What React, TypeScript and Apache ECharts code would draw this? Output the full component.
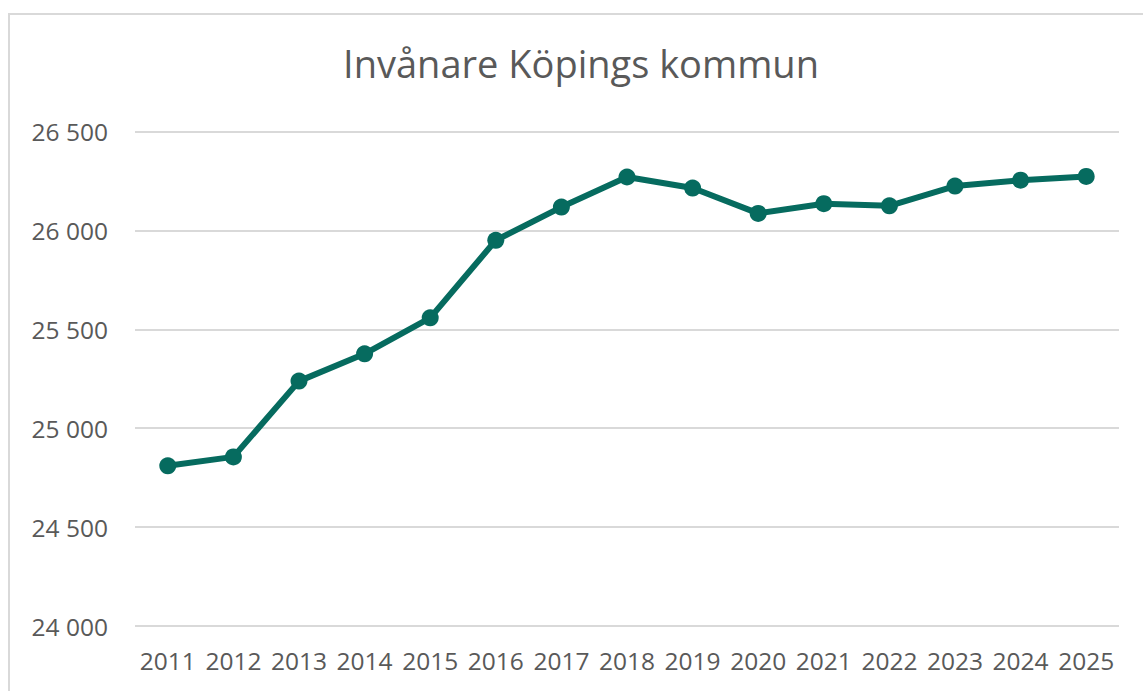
import React, { useEffect, useRef } from "react";
import * as echarts from "echarts";

const years = ["2011","2012","2013","2014","2015","2016","2017","2018","2019","2020","2021","2022","2023","2024","2025"];
const population = [24810,24855,25238,25376,25558,25950,26118,26270,26214,26086,26135,26124,26224,26254,26273];
const titleText = "Invånare Köpings kommun";

const FONT = "'Open Sans', sans-serif";
const TEXT = "#595959";

export default function App() {
  const ref = useRef<HTMLDivElement>(null);
  useEffect(() => {
    const chart = echarts.init(ref.current!, null, { renderer: "svg" });
    chart.setOption({
      animation: false,
      backgroundColor: "#ffffff",
      graphic: [
        {
          type: "rect",
          shape: { x: 9, y: 14, width: 1300, height: 900 },
          style: { fill: "none", stroke: "#d9d9d9", lineWidth: 2 },
          silent: true,
          z: -1,
        },
      ],
      title: {
        text: titleText,
        left: 576,
        top: 39,
        textAlign: "center",
        textStyle: { fontFamily: FONT, fontSize: 38, fontWeight: "normal", color: TEXT },
      },
      grid: { left: 135, right: 24, top: 131.5, bottom: 65, containLabel: false },
      xAxis: {
        type: "category",
        data: years,
        boundaryGap: true,
        axisLine: { show: false },
        axisTick: { show: false },
        axisLabel: { fontFamily: FONT, fontSize: 24.5, color: TEXT, margin: 22, interval: 0, hideOverlap: false },
      },
      yAxis: {
        type: "value",
        min: 24000,
        max: 26500,
        interval: 500,
        axisLine: { show: false },
        axisTick: { show: false },
        splitLine: { lineStyle: { color: "#d9d9d9", width: 2 } },
        axisLabel: {
          fontFamily: FONT,
          fontSize: 24.5,
          color: TEXT,
          margin: 27,
          formatter: (v: number) => {
            const s = String(v);
            return s.slice(0, s.length - 3) + " " + s.slice(-3);
          },
        },
      },
      series: [
        {
          type: "line",
          data: population,
          symbol: "circle",
          symbolSize: 17,
          lineStyle: { color: "#066b5f", width: 6 },
          itemStyle: { color: "#066b5f" },
        },
      ],
    });
    return () => chart.dispose();
  }, []);
  return <div ref={ref} style={{ width: 1143, height: 691, position: "absolute", left: 0, top: 0 }} />;
}
